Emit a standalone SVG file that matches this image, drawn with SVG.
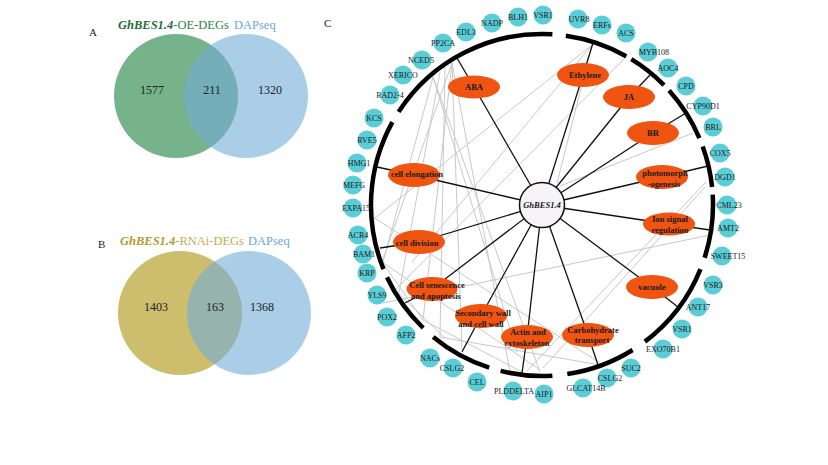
<svg xmlns="http://www.w3.org/2000/svg" width="828" height="465" viewBox="0 0 828 465">
<style>
.lbl{font-family:"Liberation Serif","Times New Roman",serif;font-size:8px;fill:#1a1a1a;text-anchor:middle;dominant-baseline:central}
.cat{font-family:"Liberation Serif","Times New Roman",serif;font-size:8.5px;font-weight:bold;fill:#1a1a1a;text-anchor:middle;dominant-baseline:central}
.num{font-family:"Liberation Serif","Times New Roman",serif;font-size:12px;fill:#222;text-anchor:middle}
.pan{font-family:"Liberation Serif","Times New Roman",serif;font-size:11px;fill:#222}
.ttl{font-family:"Liberation Serif","Times New Roman",serif;font-size:12.5px}
.gene{fill:#5bcdd6}
.ell{fill:#ef5411}
.gray line{stroke:#c8c8c8;stroke-width:1}
.blk line{stroke:#111;stroke-width:1.3}
.ring path{fill:none;stroke:#000;stroke-width:4.5}
</style>
<rect width="828" height="465" fill="#fff"/>

<g id="venn-A">
<circle cx="176" cy="96" r="62" fill="#76b28a"/>
<circle cx="246" cy="96" r="62" fill="#71abd8" fill-opacity="0.6"/>
<text class="pan" x="89" y="36">A</text>
<text class="ttl" x="118" y="29"><tspan font-weight="bold" font-style="italic" fill="#1f6e3c">GhBES1.4</tspan><tspan fill="#2e8049">-OE-DEGs</tspan></text>
<text class="ttl" x="234" y="29" fill="#6aa6d8">DAPseq</text>
<text class="num" x="152" y="94">1577</text>
<text class="num" x="212" y="94">211</text>
<text class="num" x="270" y="94">1320</text>
</g>

<g id="venn-B">
<circle cx="180" cy="313" r="62" fill="#cdbe6e"/>
<circle cx="249" cy="313" r="62" fill="#71abd8" fill-opacity="0.6"/>
<text class="pan" x="98" y="248">B</text>
<text class="ttl" x="120" y="245"><tspan font-weight="bold" font-style="italic" fill="#b39b2c">GhBES1.4</tspan><tspan fill="#c4ad50">-RNAi-DEGs</tspan></text>
<text class="ttl" x="248" y="245" fill="#6aa6d8">DAPseq</text>
<text class="num" x="156" y="311">1403</text>
<text class="num" x="215" y="311">163</text>
<text class="num" x="262" y="311">1368</text>
</g>

<text class="pan" x="324" y="27">C</text>

<g id="connectors">
<g class="gray">
<line x1="452" y1="63" x2="423" y2="320"/>
<line x1="452" y1="63" x2="382" y2="262"/>
<line x1="452" y1="63" x2="510" y2="372"/>
<line x1="452" y1="63" x2="462" y2="350"/>
<line x1="445" y1="67" x2="440" y2="337"/>
<line x1="433" y1="77" x2="540" y2="372"/>
<line x1="433" y1="77" x2="517" y2="352"/>
<line x1="433" y1="77" x2="383" y2="262"/>
<line x1="440" y1="72" x2="398" y2="298"/>
<line x1="592" y1="45" x2="375" y2="218"/>
<line x1="592" y1="45" x2="412" y2="262"/>
<line x1="592" y1="45" x2="557" y2="183"/>
<line x1="627" y1="56" x2="395" y2="290"/>
<line x1="693" y1="133" x2="560" y2="186"/>
<line x1="706" y1="182" x2="527" y2="371"/>
<line x1="705" y1="187" x2="543" y2="368"/>
<line x1="710" y1="235" x2="383" y2="303"/>
<line x1="370" y1="215" x2="600" y2="363"/>
<line x1="382" y1="262" x2="540" y2="370"/>
<line x1="382" y1="262" x2="423" y2="320"/>
<line x1="423" y1="320" x2="522" y2="372"/>
<line x1="440" y1="337" x2="600" y2="365"/>
<line x1="395" y1="290" x2="445" y2="338"/>
</g>
<g class="blk">
<line x1="542" y1="205" x2="474" y2="87"/>
<line x1="542" y1="205" x2="583" y2="75"/>
<line x1="542" y1="205" x2="629" y2="97"/>
<line x1="542" y1="205" x2="653" y2="133"/>
<line x1="542" y1="205" x2="662" y2="177"/>
<line x1="542" y1="205" x2="669" y2="224"/>
<line x1="542" y1="205" x2="652" y2="287"/>
<line x1="542" y1="205" x2="588" y2="335"/>
<line x1="542" y1="205" x2="527" y2="337"/>
<line x1="542" y1="205" x2="481" y2="316"/>
<line x1="542" y1="205" x2="432" y2="289"/>
<line x1="542" y1="205" x2="419" y2="242"/>
<line x1="542" y1="205" x2="414" y2="175"/>
<line x1="474" y1="87" x2="457" y2="58"/>
<line x1="583" y1="75" x2="593" y2="43"/>
<line x1="629" y1="97" x2="650" y2="75"/>
<line x1="653" y1="133" x2="686" y2="113"/>
<line x1="662" y1="177" x2="708" y2="166"/>
<line x1="669" y1="224" x2="710" y2="230"/>
<line x1="652" y1="287" x2="678" y2="307"/>
<line x1="588" y1="335" x2="598" y2="365"/>
<line x1="527" y1="337" x2="522" y2="373"/>
<line x1="481" y1="316" x2="462" y2="352"/>
<line x1="432" y1="289" x2="405" y2="303"/>
<line x1="419" y1="242" x2="380" y2="248"/>
<line x1="414" y1="175" x2="377" y2="167"/>
</g>
</g>

<g id="ring" class="ring">
<path d="M398.6 111.9 A171 171 0 0 1 552.4 34.3"/>
<path d="M565.8 35.7 A171 171 0 0 1 626.2 56.2"/>
<path d="M631.3 59.2 A171 171 0 0 1 664.0 85.2"/>
<path d="M669.1 90.6 A171 171 0 0 1 699.4 138.2"/>
<path d="M702.7 146.5 A171 171 0 0 1 712.1 187.1"/>
<path d="M712.7 194.6 A171 171 0 0 1 704.6 257.8"/>
<path d="M700.5 269.1 A171 171 0 0 1 644.9 341.6"/>
<path d="M632.6 350.0 A171 171 0 0 1 567.3 374.1"/>
<path d="M552.4 375.7 A171 171 0 0 1 500.6 370.9"/>
<path d="M489.2 367.6 A171 171 0 0 1 433.2 336.9"/>
<path d="M423.2 328.0 A171 171 0 0 1 387.0 277.3"/>
<path d="M383.5 269.1 A171 171 0 0 1 392.4 122.1"/>
</g>

<g id="n-ABA"><ellipse class="ell" cx="474" cy="87" rx="26" ry="11.5"/><text class="cat" x="474" y="87">ABA</text></g>
<g id="n-Ethylene"><ellipse class="ell" cx="583" cy="75" rx="26" ry="12"/><text class="cat" x="585" y="75">Ethylene</text></g>
<g id="n-JA"><ellipse class="ell" cx="629" cy="97" rx="26" ry="12"/><text class="cat" x="629" y="97">JA</text></g>
<g id="n-BR"><ellipse class="ell" cx="653" cy="133" rx="26" ry="12"/><text class="cat" x="653" y="133">BR</text></g>
<g id="n-photo"><ellipse class="ell" cx="662" cy="177" rx="26" ry="12"/><text class="cat" x="665" y="173">photomorph</text><text class="cat" x="664" y="184">-ogenesis</text></g>
<g id="n-ion"><ellipse class="ell" cx="669" cy="224" rx="26" ry="11.5"/><text class="cat" x="670" y="219">Ion signal</text><text class="cat" x="670" y="229.5">regulation</text></g>
<g id="n-vacuole"><ellipse class="ell" cx="652" cy="287" rx="26" ry="12"/><text class="cat" x="652" y="287">vacuole</text></g>
<g id="n-carb"><ellipse class="ell" cx="588" cy="335" rx="26" ry="12"/><text class="cat" x="593" y="329.5">Carbohydrate</text><text class="cat" x="592" y="340">transport</text></g>
<g id="n-actin"><ellipse class="ell" cx="527" cy="337" rx="26" ry="12"/><text class="cat" x="528" y="332">Actin and</text><text class="cat" x="527" y="343">cytoskeleton</text></g>
<g id="n-secwall"><ellipse class="ell" cx="481" cy="316" rx="26" ry="12"/><text class="cat" x="483" y="313">Secondary wall</text><text class="cat" x="481" y="324">and cell wall</text></g>
<g id="n-senescence"><ellipse class="ell" cx="432" cy="289" rx="25.5" ry="12"/><text class="cat" x="437" y="285">Cell senescence</text><text class="cat" x="436" y="296">and apoptosis</text></g>
<g id="n-division"><ellipse class="ell" cx="419" cy="242" rx="26" ry="12"/><text class="cat" x="417" y="242.5">cell division</text></g>
<g id="n-elongation"><ellipse class="ell" cx="414" cy="175" rx="26" ry="12"/><text class="cat" x="417" y="174">cell elongation</text></g>

<g id="n-GhBES1.4"><circle cx="542" cy="205" r="22.5" fill="#f6f4f8" stroke="#111" stroke-width="1.5"/><text class="cat" x="542" y="205" font-style="italic">GhBES1.4</text></g>

<g id="genes">
<g id="g-PP2CA"><circle class="gene" cx="443" cy="43" r="9.5"/><text class="lbl" x="443" y="43">PP2CA</text></g>
<g id="g-EDL3"><circle class="gene" cx="466" cy="32" r="9.5"/><text class="lbl" x="466" y="32">EDL3</text></g>
<g id="g-NADP"><circle class="gene" cx="492" cy="23" r="9.5"/><text class="lbl" x="492" y="23">NADP</text></g>
<g id="g-BLH1"><circle class="gene" cx="518" cy="17" r="9.5"/><text class="lbl" x="518" y="17">BLH1</text></g>
<g id="g-VSR1a"><circle class="gene" cx="543" cy="15" r="9.5"/><text class="lbl" x="543" y="15">VSR1</text></g>
<g id="g-UVR8"><circle class="gene" cx="578" cy="19" r="9.5"/><text class="lbl" x="579" y="19">UVR8</text></g>
<g id="g-ERFs"><circle class="gene" cx="602" cy="25" r="9.5"/><text class="lbl" x="602" y="25">ERFs</text></g>
<g id="g-ACS"><circle class="gene" cx="626" cy="33" r="9.5"/><text class="lbl" x="626" y="33">ACS</text></g>
<g id="g-MYB108"><circle class="gene" cx="648" cy="52" r="9.5"/><text class="lbl" x="654" y="52">MYB108</text></g>
<g id="g-AOC4"><circle class="gene" cx="668" cy="68" r="9.5"/><text class="lbl" x="668" y="68">AOC4</text></g>
<g id="g-CPD"><circle class="gene" cx="686" cy="86" r="9.5"/><text class="lbl" x="686" y="86">CPD</text></g>
<g id="g-CYP90D1"><circle class="gene" cx="703" cy="106" r="9.5"/><text class="lbl" x="703" y="106">CYP90D1</text></g>
<g id="g-BRL"><circle class="gene" cx="713" cy="127" r="9.5"/><text class="lbl" x="713" y="127">BRL</text></g>
<g id="g-COX5"><circle class="gene" cx="720" cy="153" r="9.5"/><text class="lbl" x="720" y="153">COX5</text></g>
<g id="g-DGD1"><circle class="gene" cx="725" cy="177" r="9.5"/><text class="lbl" x="725" y="177">DGD1</text></g>
<g id="g-CML23"><circle class="gene" cx="727" cy="205" r="9.5"/><text class="lbl" x="729" y="205">CML23</text></g>
<g id="g-AMT2"><circle class="gene" cx="728" cy="228" r="9.5"/><text class="lbl" x="728" y="228">AMT2</text></g>
<g id="g-SWEET15"><circle class="gene" cx="722" cy="256" r="9.5"/><text class="lbl" x="728" y="256">SWEET15</text></g>
<g id="g-VSR3"><circle class="gene" cx="713" cy="285" r="9.5"/><text class="lbl" x="713" y="285">VSR3</text></g>
<g id="g-ANT17"><circle class="gene" cx="698" cy="307" r="9.5"/><text class="lbl" x="698" y="307">ANT17</text></g>
<g id="g-VSR1b"><circle class="gene" cx="682" cy="329" r="9.5"/><text class="lbl" x="682" y="329">VSR1</text></g>
<g id="g-EXO70B1"><circle class="gene" cx="663" cy="349" r="9.5"/><text class="lbl" x="663" y="349">EXO70B1</text></g>
<g id="g-SUC2"><circle class="gene" cx="631" cy="368" r="9.5"/><text class="lbl" x="631" y="368">SUC2</text></g>
<g id="g-CSLG2a"><circle class="gene" cx="607" cy="378" r="9.5"/><text class="lbl" x="610" y="378">CSLG2</text></g>
<g id="g-GLCAT14B"><circle class="gene" cx="583" cy="388" r="9.5"/><text class="lbl" x="586" y="388">GLCAT14B</text></g>
<g id="g-AIP1"><circle class="gene" cx="544" cy="394" r="9.5"/><text class="lbl" x="544" y="394">AIP1</text></g>
<g id="g-PLDDELTA"><circle class="gene" cx="513" cy="391" r="9.5"/><text class="lbl" x="514" y="391">PLDDELTA</text></g>
<g id="g-CEL"><circle class="gene" cx="477" cy="382" r="9.5"/><text class="lbl" x="477" y="382">CEL</text></g>
<g id="g-CSLG2b"><circle class="gene" cx="453" cy="368" r="9.5"/><text class="lbl" x="452" y="368">CSLG2</text></g>
<g id="g-NACs"><circle class="gene" cx="430" cy="358" r="9.5"/><text class="lbl" x="430" y="358">NACs</text></g>
<g id="g-AFP2"><circle class="gene" cx="406" cy="335" r="9.5"/><text class="lbl" x="406" y="335">AFP2</text></g>
<g id="g-POX2"><circle class="gene" cx="387" cy="317" r="9.5"/><text class="lbl" x="387" y="317">POX2</text></g>
<g id="g-YLS9"><circle class="gene" cx="377" cy="295" r="9.5"/><text class="lbl" x="377" y="295">YLS9</text></g>
<g id="g-KRP"><circle class="gene" cx="367" cy="273" r="9.5"/><text class="lbl" x="367" y="273">KRP</text></g>
<g id="g-BAM1"><circle class="gene" cx="363" cy="254" r="9.5"/><text class="lbl" x="364" y="254">BAM1</text></g>
<g id="g-ACR4"><circle class="gene" cx="358" cy="235" r="9.5"/><text class="lbl" x="358" y="235">ACR4</text></g>
<g id="g-EXPA15"><circle class="gene" cx="353" cy="208" r="9.5"/><text class="lbl" x="356" y="208">EXPA15</text></g>
<g id="g-MEFG"><circle class="gene" cx="353" cy="185" r="9.5"/><text class="lbl" x="354" y="185">MEFG</text></g>
<g id="g-HMG1"><circle class="gene" cx="357" cy="163" r="9.5"/><text class="lbl" x="359" y="163">HMG1</text></g>
<g id="g-RVE5"><circle class="gene" cx="367" cy="140" r="9.5"/><text class="lbl" x="367" y="140">RVE5</text></g>
<g id="g-KCS"><circle class="gene" cx="374" cy="118" r="9.5"/><text class="lbl" x="374" y="118">KCS</text></g>
<g id="g-RAD2-4"><circle class="gene" cx="390" cy="95" r="9.5"/><text class="lbl" x="390" y="95">RAD2-4</text></g>
<g id="g-XERICO"><circle class="gene" cx="403" cy="75" r="9.5"/><text class="lbl" x="403" y="75">XERICO</text></g>
<g id="g-NCED5"><circle class="gene" cx="422" cy="60" r="9.5"/><text class="lbl" x="421" y="60">NCED5</text></g>
</g>
</svg>
